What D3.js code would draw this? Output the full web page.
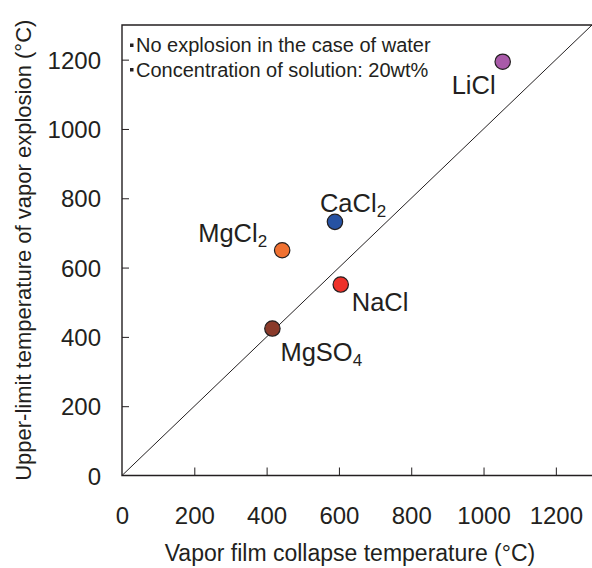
<!DOCTYPE html>
<html>
<head>
<meta charset="utf-8">
<script src="https://cdn.jsdelivr.net/npm/d3@7"></script>
<style>
body{margin:0;background:#fff;}
text{font-family:"Liberation Sans",Arial,sans-serif;fill:#231f20;}
</style>
</head>
<body>
<div id="chart"></div>
<script>
var names = ["LiCl","CaCl","MgCl","NaCl","MgSO"];
var subs = ["","2","2","","4"];
var filmTemp = [1053,589,443,605,416];
var upperTemp = [1194,732,650,551,424];
var colors = ["#a95aa9","#2652a3","#f07131","#ee3129","#8a3a2a"];
var ticks = [0,200,400,600,800,1000,1200];
var notes = ["No explosion in the case of water","Concentration of solution: 20wt%"];

var w = 592, h = 568;
var m = {l:122, r:0, t:25, b:92.5};

var svg = d3.select("#chart").append("svg")
.attr("width",w)
.attr("height",h);

var x = d3.scaleLinear().domain([0,1300]).range([m.l, w-m.r]);
var y = d3.scaleLinear().domain([0,1300]).range([h-m.b, m.t]);

// frame: left, bottom, top
svg.append("path")
.attr("d","M"+x(1300)+","+y(1300)+"H"+x(0)+"V"+y(0)+"H"+x(1300))
.attr("fill","none")
.attr("stroke","#231f20")
.attr("stroke-width",1.4);

var xAxis = svg.append("g")
.attr("transform","translate(0,"+y(0)+")")
.call(d3.axisBottom(x).tickValues(ticks).tickFormat(d3.format("d")).tickSizeInner(-8).tickSizeOuter(0).tickPadding(31));
xAxis.select(".domain").remove();
xAxis.selectAll("line").attr("stroke","#231f20");
xAxis.selectAll("text").attr("font-size",24).attr("fill","#231f20");
xAxis.selectAll(".tick").filter(function(d){return d==0;}).select("line").remove();

var yAxis = svg.append("g")
.attr("transform","translate("+x(0)+",0)")
.call(d3.axisLeft(y).tickValues(ticks).tickFormat(d3.format("d")).tickSizeInner(-7).tickSizeOuter(0).tickPadding(21));
yAxis.select(".domain").remove();
yAxis.selectAll("line").attr("stroke","#231f20");
yAxis.selectAll("text").attr("font-size",24).attr("fill","#231f20").attr("dy","0.36em");
yAxis.selectAll(".tick").filter(function(d){return d==0;}).select("line").remove();

// y = x line
svg.append("line")
.attr("x1",x(0)).attr("y1",y(0))
.attr("x2",x(1300)).attr("y2",y(1300))
.attr("stroke","#231f20")
.attr("stroke-width",1);

// points
svg.selectAll("circle.pt")
.data(names)
.enter()
.append("circle")
.attr("class","pt")
.attr("cx",function(d,i){return x(filmTemp[i]);})
.attr("cy",function(d,i){return y(upperTemp[i]);})
.attr("r",7.7)
.attr("fill",function(d,i){return colors[i];})
.attr("stroke","#231f20")
.attr("stroke-width",1.2);

// labels, offsets relative to point
var offs = [[-51,32],[-15,-10],[-84,-8],[11,26],[8,32]];
var lab = svg.selectAll("text.lab")
.data(names)
.enter()
.append("text")
.attr("class","lab")
.attr("x",function(d,i){return x(filmTemp[i])+offs[i][0];})
.attr("y",function(d,i){return y(upperTemp[i])+offs[i][1];})
.attr("font-size",25.5);
lab.append("tspan").text(function(d){return d;});
lab.append("tspan")
.attr("font-size",17)
.attr("dy",5)
.text(function(d,i){return subs[i];});

// notes
notes.forEach(function(n,i){
 svg.append("rect")
 .attr("x",x(0)+8).attr("y",43.5+i*24.5)
 .attr("width",3.5).attr("height",3.5)
 .attr("fill","#231f20");
 svg.append("text")
 .attr("x",x(0)+14).attr("y",52+i*24.5)
 .attr("font-size",20)
 .text(n);
});

// axis titles
svg.append("text")
.attr("x",350)
.attr("y",561)
.attr("text-anchor","middle")
.attr("font-size",23)
.text("Vapor film collapse temperature (°C)");

svg.append("text")
.attr("transform","translate(31,"+((y(0)+y(1300))/2)+") rotate(-90)")
.attr("text-anchor","middle")
.attr("font-size",22)
.text("Upper-limit temperature of vapor explosion (°C)");
</script>
</body>
</html>
